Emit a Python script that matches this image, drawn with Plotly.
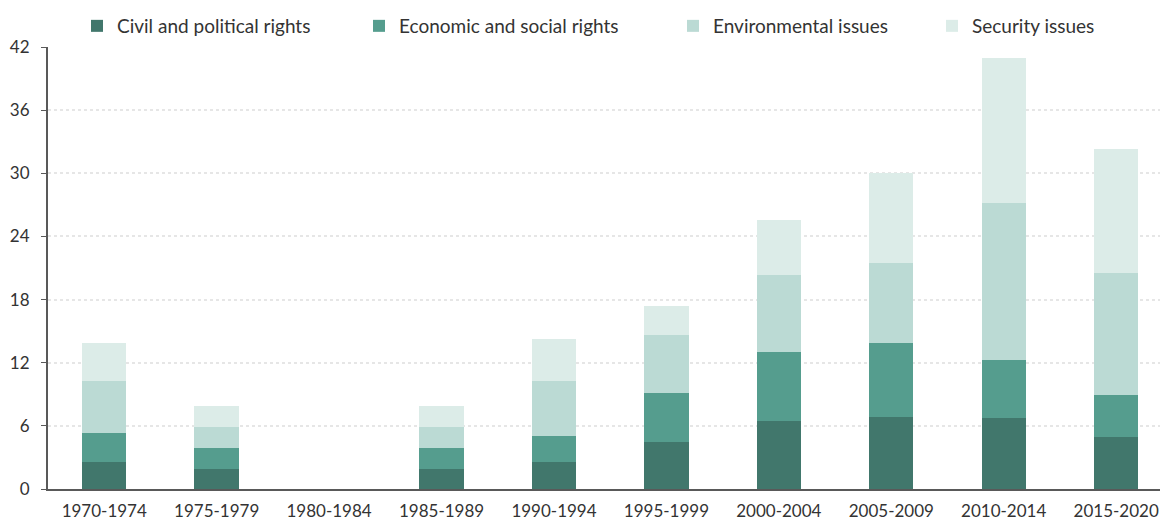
import plotly.graph_objects as go

categories = ["1970-1974", "1975-1979", "1980-1984", "1985-1989", "1990-1994",
              "1995-1999", "2000-2004", "2005-2009", "2010-2014", "2015-2020"]
civil = [2.6, 1.9, 0, 1.9, 2.6, 4.5, 6.5, 6.8, 6.7, 4.9]
economic = [2.7, 2.0, 0, 2.0, 2.4, 4.6, 6.5, 7.1, 5.6, 4.0]
environmental = [5.0, 2.0, 0, 2.0, 5.3, 5.5, 7.3, 7.6, 14.9, 11.6]
security = [3.6, 2.0, 0, 2.0, 4.0, 2.8, 5.3, 8.5, 13.8, 11.8]
y_ticks = [0, 6, 12, 18, 24, 30, 36, 42]

series = [
    ("Civil and political rights", civil, "#41776c", "legend"),
    ("Economic and social rights", economic, "#559d8e", "legend2"),
    ("Environmental issues", environmental, "#bbdad4", "legend3"),
    ("Security issues", security, "#dcece8", "legend4"),
]
legend_x_px = [77, 359, 673, 932]

fig = go.Figure()
for name, vals, color, lg in series:
    fig.add_trace(go.Bar(x=categories, y=vals, name=name, marker_color=color,
                         marker_line_width=0, legend=lg))

legend_common = dict(orientation="h", xanchor="left", y=0.95, yanchor="middle",
                     yref="container", xref="container", font=dict(size=19),
                     itemwidth=30, bgcolor="rgba(0,0,0,0)")
layout_legends = {}
for i, (name, vals, color, lg) in enumerate(series):
    layout_legends[lg] = dict(legend_common, x=legend_x_px[i] / 1160)

fig.update_layout(
    width=1160, height=520,
    barmode="stack", bargap=0.605,
    plot_bgcolor="white", paper_bgcolor="white",
    margin=dict(l=48, r=0, t=47, b=31, autoexpand=False),
    font=dict(family="Lato, sans-serif", size=17, color="#333333"),
    showlegend=True,
    **layout_legends,
)
fig.update_xaxes(range=[-0.5, 9.39], showline=True, linecolor="#595959", linewidth=2,
                 ticks="", showgrid=False, tickfont=dict(size=17), ticklabelstandoff=6,
                 automargin=False)
fig.update_yaxes(range=[0, 42], tickvals=y_ticks, showline=True, linecolor="#595959",
                 linewidth=2, ticks="outside", ticklen=5, tickcolor="#595959",
                 showgrid=True, gridcolor="#e6e6e6", gridwidth=2, griddash="dot",
                 zeroline=False, tickfont=dict(size=17), ticklabelstandoff=8,
                 automargin=False)

fig.write_html("out.html", config={"displayModeBar": False},
               post_script="document.body.style.margin='0';")
